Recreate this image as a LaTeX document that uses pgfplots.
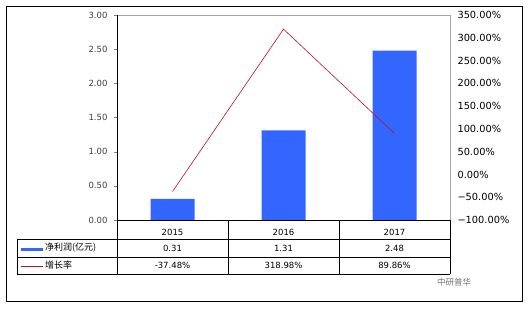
\documentclass[border=0pt]{standalone}
\usepackage{fontspec}
\setmainfont{DejaVu Sans}
\newfontfamily\cjk{Noto Sans CJK SC}
\usepackage{pgfplots}
\pgfplotsset{compat=1.18}
\definecolor{barblue}{RGB}{51,102,255}
\definecolor{linered}{RGB}{185,20,35}
\newcommand\tf{\fontsize{8.5bp}{10bp}\selectfont}
\begin{document}
\begin{tikzpicture}[x=1bp,y=1bp]
\useasboundingbox (0,0) rectangle (529,308);
\fill[white] (0,0) rectangle (529,308);
\draw[black, line width=0.8bp] (6,7) rectangle (522,302);
\begin{axis}[at={(117bp,88bp)}, anchor=south west, scale only axis,
  width=333bp, height=205bp,
  xmin=0.5, xmax=3.5, ymin=0, ymax=3,
  axis line style={draw=none},
  xtick={1,2,3}, xticklabels={2015,2016,2017}, xtick style={draw=none},
  xticklabel style={anchor=center, yshift=-9.5bp},
  ytick={0,0.5,1,1.5,2,2.5,3}, ytick pos=left, tick align=outside, major tick length=3bp,
  yticklabel style={/pgf/number format/fixed, /pgf/number format/fixed zerofill,
    /pgf/number format/precision=2, xshift=-3bp, text=black!75},
  /pgf/number format/assume math mode=true,
  tick label style={font=\tf},
  clip=false]
\addplot[ybar, bar width=44bp, fill=barblue, draw=none] coordinates {(1,0.31) (2,1.31) (3,2.48)};
\end{axis}
\begin{axis}[at={(117bp,88bp)}, anchor=south west, scale only axis,
  width=333bp, height=205bp,
  xmin=0.5, xmax=3.5, ymin=-100, ymax=350,
  hide x axis, axis line style={draw=none},
  ytick={-100,-50,0,50,100,150,200,250,300,350},
  yticklabels={−100.00\%,−50.00\%,0.00\%,50.00\%,100.00\%,150.00\%,200.00\%,250.00\%,300.00\%,350.00\%},
  ytick pos=right, yticklabel pos=right, ytick style={draw=none},
  yticklabel style={anchor=west, xshift=4bp, font=\fontsize{9.8bp}{11bp}\selectfont},
  clip=false]
\addplot[linered, line width=0.6bp] coordinates {(1,-37.48) (2,318.98) (3,89.86)};
\end{axis}
% plot frame
\draw[gray!70] (117,293)--(450,293)--(450,88);
\draw (117,293)--(117,88)--(450,88);
% data table
\draw (17,69)--(450,69);
\draw (17,51)--(450,51);
\draw (17,34)--(450,34);
\draw (17,69)--(17,34);
\foreach \x in {117,228,339,450} \draw (\x,88)--(\x,34);
\node[font=\tf] at (172.5,60) {0.31};
\node[font=\tf] at (283.5,60) {1.31};
\node[font=\tf] at (394.5,60) {2.48};
\node[font=\tf] at (172.5,42.5) {-37.48\%};
\node[font=\tf] at (283.5,42.5) {318.98\%};
\node[font=\tf] at (394.5,42.5) {89.86\%};
\fill[barblue] (21,57) rectangle (43,60.5);
\node[anchor=west, inner sep=1bp, font=\cjk\fontsize{9bp}{10bp}\selectfont] at (44,60) {净利润(亿元)};
\draw[linered, line width=0.6bp] (21,41.5)--(43,41.5);
\node[anchor=west, inner sep=1bp, font=\cjk\fontsize{9bp}{10bp}\selectfont] at (44,42.5) {增长率};
\node[font=\cjk\fontsize{8.5bp}{10bp}\selectfont, text=black!55] at (454,26) {中研普华};
\end{tikzpicture}
\end{document}
